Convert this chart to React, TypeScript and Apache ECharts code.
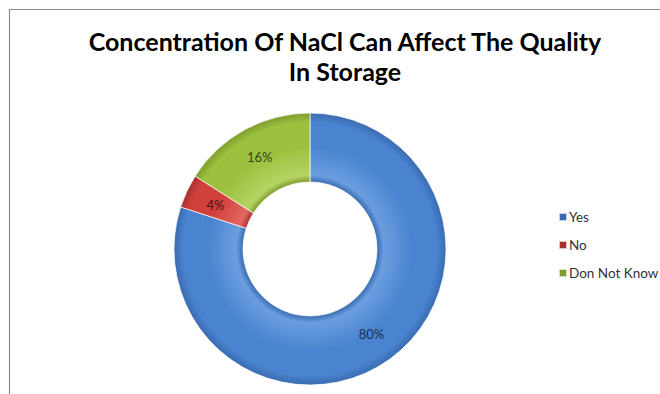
import React, { useEffect, useRef } from "react";
import * as echarts from "echarts";

const titleText = "Concentration Of NaCl Can Affect The Quality\nIn Storage";
const categories = ["Yes", "No", "Don Not Know"];
const values = [80, 4, 16];
const baseColors = ["#4a84d0", "#d2403b", "#9dc13f"];
const edgeColors = ["#3a6bb0", "#a8302c", "#7e9d2e"];
const lightColors = ["#6a9ee0", "#e26662", "#b5d463"];
const labelColors = ["#1b2f57", "#4a1514", "#344216"];

export default function App() {
  const ref = useRef<HTMLDivElement>(null);
  useEffect(() => {
    if (!ref.current) return;
    const chart = echarts.init(ref.current, undefined, { renderer: "svg" });
    const cx = 310;
    const cy = 249;
    const R = 136;
    const r = 67;
    const grad = (i: number) => ({
      type: "radial",
      x: cx,
      y: cy,
      r: R,
      global: true,
      colorStops: [
        { offset: r / R, color: edgeColors[i] },
        { offset: r / R + 0.05, color: lightColors[i] },
        { offset: 0.75, color: baseColors[i] },
        { offset: 0.93, color: baseColors[i] },
        { offset: 1, color: edgeColors[i] },
      ],
    });
    chart.setOption({
      animation: false,
      backgroundColor: "#ffffff",
      title: {
        text: titleText,
        left: 340,
        textAlign: "center",
        top: 21,
        textStyle: {
          fontFamily: "Lato",
          fontWeight: "bold",
          fontSize: 25,
          lineHeight: 30,
          color: "#000000",
        },
      },
      legend: {
        orient: "vertical",
        left: 553,
        top: 205,
        itemWidth: 8,
        itemHeight: 8,
        itemGap: 14,
        icon: "rect",
        textStyle: { fontFamily: "Lato", fontSize: 13.5, color: "#333333", padding: [0, 0, 0, -3] },
        data: categories,
      },
      graphic: [
        {
          type: "rect",
          shape: { x: 9.5, y: 9.5, width: 700, height: 500 },
          style: { fill: "none", stroke: "#8a8a8a", lineWidth: 1.2 },
          silent: true,
        },
      ],
      series: [
        {
          type: "pie",
          center: [cx, cy],
          radius: [r, R],
          startAngle: 90,
          clockwise: true,
          avoidLabelOverlap: false,
          itemStyle: { borderColor: "rgba(255,255,255,0.7)", borderWidth: 1 },
          label: {
            show: true,
            position: "inside",
            formatter: "{d}%",
            fontFamily: "Lato",
            fontSize: 13,
          },
          labelLine: { show: false },
          data: categories.map((c, i) => ({
            name: c,
            value: values[i],
            itemStyle: { color: grad(i) },
            label: { color: labelColors[i] },
          })),
        },
      ],
    });
    return () => chart.dispose();
  }, []);
  return (
    <div
      ref={ref}
      style={{ position: "fixed", left: 0, top: 0, width: 660, height: 394 }}
    />
  );
}
